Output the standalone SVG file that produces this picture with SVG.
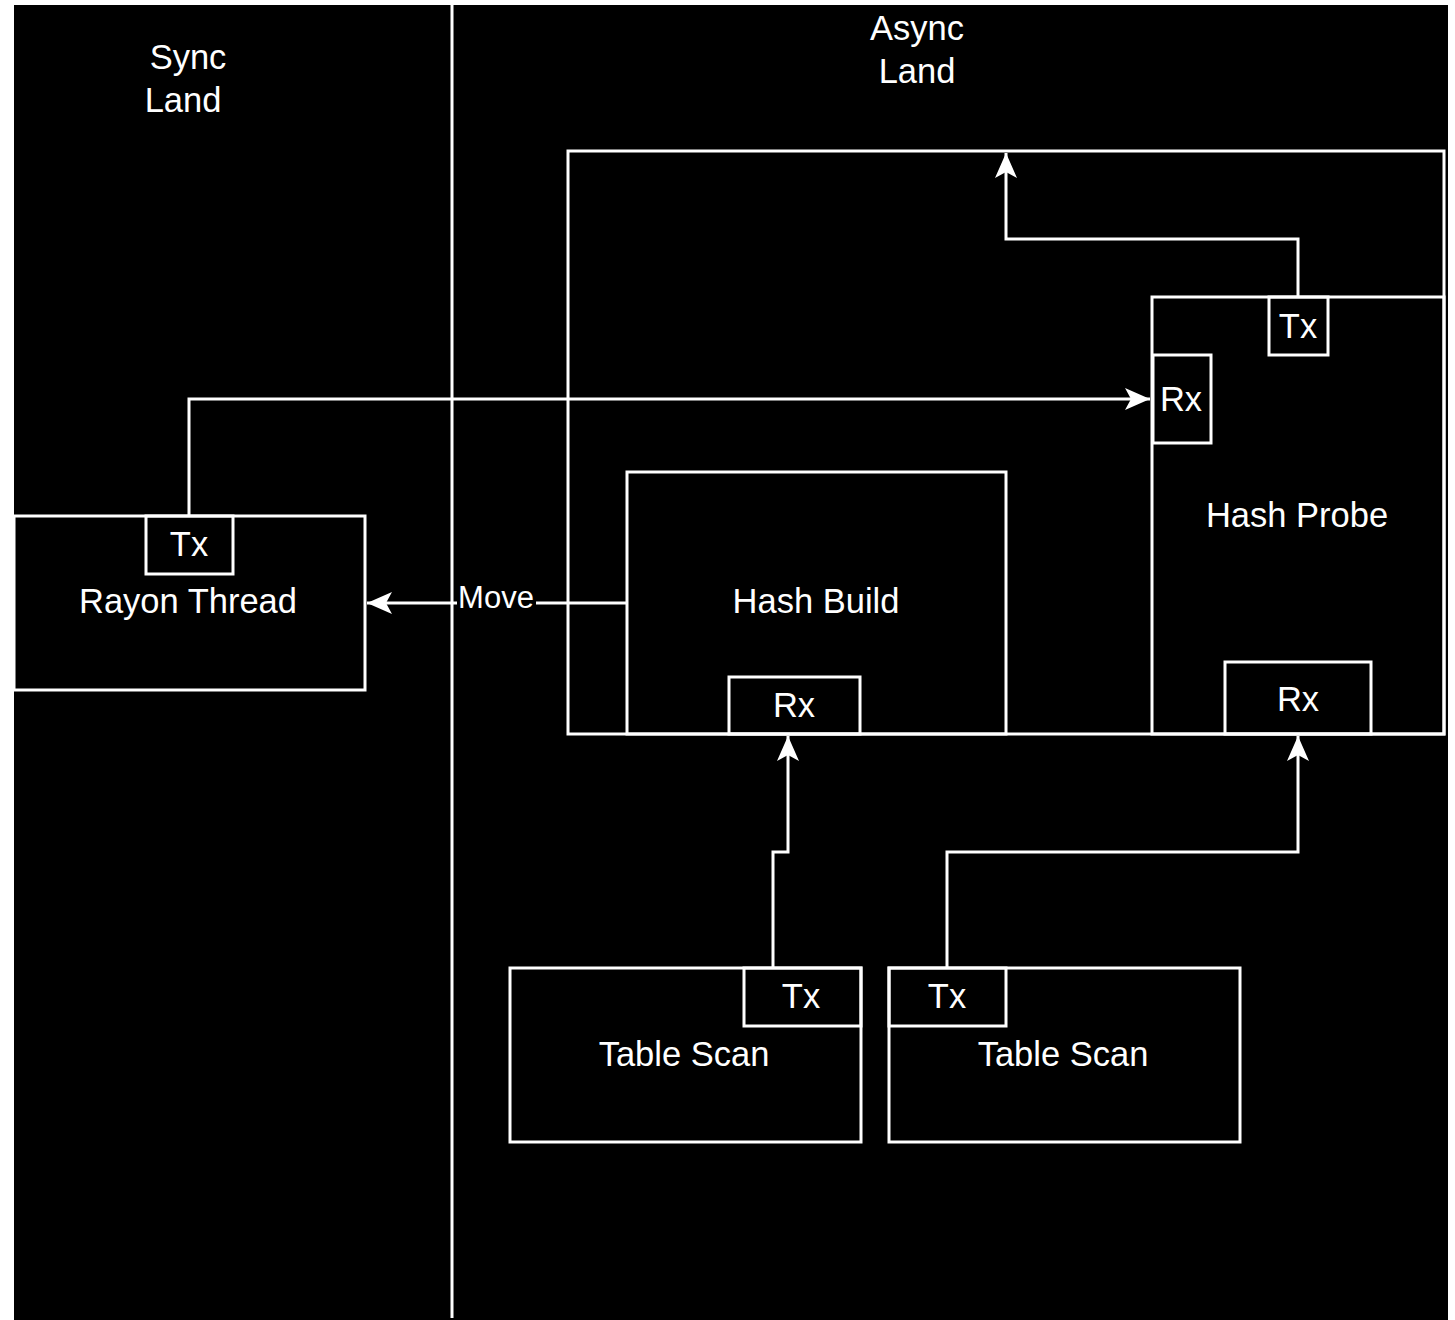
<svg xmlns="http://www.w3.org/2000/svg" width="1455" height="1320" viewBox="0 0 1455 1320">
<style>
.b{fill:none;stroke:#fff;stroke-width:3}
.c{fill:none;stroke:#fff;stroke-width:3}
text{font-family:"Liberation Sans",Arial,sans-serif;font-size:34.5px;fill:#fff;text-anchor:middle}
</style>
<defs>
<marker id="a" markerUnits="userSpaceOnUse" markerWidth="30" markerHeight="30" viewBox="0 0 30 30" refX="27" refY="15" orient="auto">
<path d="M27,15 L2,4 L8,15 L2,26 Z" fill="#fff"/>
</marker>
</defs>
<rect x="0" y="0" width="1455" height="1320" fill="#fff"/>
<rect x="14" y="5" width="1434" height="1315" fill="#000"/>
<line x1="452" y1="5" x2="452" y2="1318" class="c"/>
<text x="188" y="69">Sync</text>
<text x="183" y="112">Land</text>
<text x="917" y="40">Async</text>
<text x="917" y="83">Land</text>
<g id="outer"><rect x="568" y="151" width="876" height="583" class="b"/></g>
<g id="hashprobe"><rect x="1152" y="297" width="292" height="437" class="b"/><text x="1297" y="527">Hash Probe</text></g>
<g id="probe-tx"><rect x="1269" y="297" width="59" height="58" class="b"/><text x="1298" y="338">Tx</text></g>
<g id="probe-rx1"><rect x="1153" y="355" width="58" height="88" class="b"/><text x="1181" y="411">Rx</text></g>
<g id="probe-rx2"><rect x="1225" y="662" width="146" height="72" class="b"/><text x="1298" y="711">Rx</text></g>
<g id="hashbuild"><rect x="627" y="472" width="379" height="262" class="b"/><text x="816" y="613">Hash Build</text></g>
<g id="build-rx"><rect x="729" y="677" width="131" height="57" class="b"/><text x="794" y="717">Rx</text></g>
<g id="rayon"><rect x="14" y="516" width="351" height="174" class="b"/><text x="188" y="613">Rayon Thread</text></g>
<g id="rayon-tx"><rect x="146" y="516" width="87" height="58" class="b"/><text x="189" y="556">Tx</text></g>
<g id="scan1"><rect x="510" y="968" width="351" height="174" class="b"/><text x="684" y="1066">Table Scan</text></g>
<g id="scan1-tx"><rect x="744" y="968" width="117" height="58" class="b"/><text x="801" y="1008">Tx</text></g>
<g id="scan2"><rect x="889" y="968" width="351" height="174" class="b"/><text x="1063" y="1066">Table Scan</text></g>
<g id="scan2-tx"><rect x="889" y="968" width="117" height="58" class="b"/><text x="947" y="1008">Tx</text></g>
<g id="connectors">
<path d="M1298,297 V239 H1006 V153" class="c" marker-end="url(#a)"/>
<path d="M189,516 V399 H1150" class="c" marker-end="url(#a)"/>
<path d="M627,603 H367" class="c" marker-end="url(#a)"/>
<rect x="457" y="585" width="79" height="28" fill="#000"/>
<text x="496" y="608" style="font-size:31px">Move</text>
<path d="M773,968 V852 H788 V736" class="c" marker-end="url(#a)"/>
<path d="M947,968 V852 H1298 V736" class="c" marker-end="url(#a)"/>
</g>
</svg>
